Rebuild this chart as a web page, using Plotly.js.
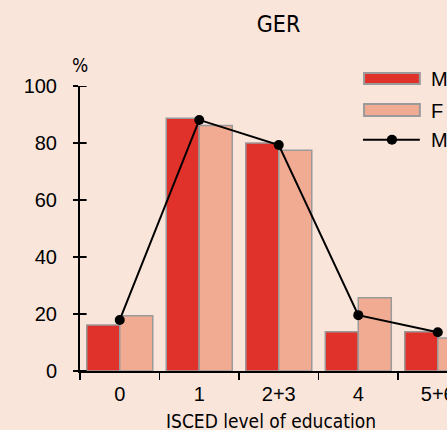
<!DOCTYPE html>
<html>
<head>
<meta charset="utf-8">
<script src="https://cdn.plot.ly/plotly-3.0.1.min.js"></script>
<style>html,body{margin:0;padding:0;background:#FAE5DB;}#chart{width:447px;height:430px;}</style>
</head>
<body>
<div id="chart"></div>
<script>
// ---- data ----
const categories = ['0', '1', '2+3', '4', '5+6'];
const seriesNames = ['M', 'F', 'MF'];
const maleValues = [16.1, 88.7, 80.0, 13.8, 13.8];
const femaleValues = [19.4, 86.1, 77.5, 25.7, 11.6];
const totalValues = [17.9, 88.1, 79.3, 19.6, 13.6];
const yTicks = [0, 20, 40, 60, 80, 100];
const chartTitle = 'GER';
const xTitle = 'ISCED level of education';
const yUnit = '%';

// ---- style ----
const BG = '#FAE5DB';
const RED = '#E0322A';
const SALMON = '#F2AB93';
const EDGE = '#9A9A9A';
const FONT = 'Liberation Sans, Arial, sans-serif';
const NARROW = 'DejaVu Sans Condensed, Liberation Sans, Arial, sans-serif';

const traces = [
  {type: 'bar', name: seriesNames[0], x: categories, y: maleValues,
   marker: {color: RED, line: {color: EDGE, width: 1.5}}, showlegend: false},
  {type: 'bar', name: seriesNames[1], x: categories, y: femaleValues,
   marker: {color: SALMON, line: {color: EDGE, width: 1.5}}, showlegend: false},
  {type: 'scatter', mode: 'lines+markers', name: seriesNames[2], x: categories, y: totalValues,
   line: {color: '#000', width: 2}, marker: {color: '#000', size: 10}, showlegend: false, cliponaxis: false}
];

// custom legend (paper coordinates)
const legendX0 = 0.774, legendX1 = 0.926, legendTextX = 0.951;
const shapes = [
  {type: 'rect', xref: 'paper', yref: 'paper', x0: legendX0, x1: legendX1, y0: 1.007, y1: 1.046,
   fillcolor: RED, line: {color: EDGE, width: 2}},
  {type: 'rect', xref: 'paper', yref: 'paper', x0: legendX0, x1: legendX1, y0: 0.895, y1: 0.937,
   fillcolor: SALMON, line: {color: EDGE, width: 2}},
  {type: 'line', xref: 'paper', yref: 'paper', x0: legendX0 - 0.003, x1: legendX1, y0: 0.811, y1: 0.811,
   line: {color: '#000', width: 2}},
  {type: 'circle', xref: 'paper', yref: 'paper', x0: 0.836, x1: 0.864, y0: 0.794, y1: 0.829,
   fillcolor: '#000', line: {color: '#000', width: 0}}
];
// inward half of the y-axis tick marks
yTicks.forEach(v => shapes.push({
  type: 'line', xref: 'paper', yref: 'y', x0: 0, x1: 0.018, y0: v, y1: v,
  line: {color: '#000', width: 2}, layer: 'above'
}));

const annotations = [
  {xref: 'paper', yref: 'paper', x: legendTextX, y: 1.024, xanchor: 'left', yanchor: 'middle',
   text: seriesNames[0], showarrow: false, font: {family: FONT, size: 20, color: '#000'}},
  {xref: 'paper', yref: 'paper', x: legendTextX, y: 0.914, xanchor: 'left', yanchor: 'middle',
   text: seriesNames[1], showarrow: false, font: {family: FONT, size: 20, color: '#000'}},
  {xref: 'paper', yref: 'paper', x: legendTextX, y: 0.811, xanchor: 'left', yanchor: 'middle',
   text: seriesNames[2], showarrow: false, font: {family: FONT, size: 20, color: '#000'}},
  {xref: 'paper', yref: 'paper', x: 0.0, y: 1.075, xanchor: 'center', yanchor: 'middle',
   text: yUnit, showarrow: false, font: {family: NARROW, size: 19, color: '#000'}},
  // x-axis title
  {xref: 'paper', yref: 'paper', x: 0.52, y: -0.174, xanchor: 'center', yanchor: 'middle',
   text: xTitle, showarrow: false, font: {family: NARROW, size: 19, color: '#000'}}
];

const layout = {
  width: 447, height: 430,
  paper_bgcolor: BG, plot_bgcolor: BG,
  margin: {l: 80, r: 0, t: 86, b: 59},
  showlegend: false,
  barmode: 'group', bargap: 0.17, bargroupgap: 0,
  title: {text: chartTitle, x: 0.541, xref: 'paper', xanchor: 'center',
          y: 1 - 24 / 430, yref: 'container', yanchor: 'middle',
          font: {family: NARROW, size: 23, color: '#000'}},
  xaxis: {
    type: 'category', range: [-0.5, 4.116], fixedrange: true,
    showline: true, linecolor: '#000', linewidth: 2,
    ticks: 'outside', tickson: 'boundaries', ticklen: 7, tickwidth: 1.5, tickcolor: '#000',
    showgrid: false, zeroline: false, ticklabelstandoff: 4,
    tickfont: {family: FONT, size: 20, color: '#000'}
  },
  yaxis: {
    range: [0, 100], tickvals: yTicks, fixedrange: true,
    showline: true, linecolor: '#000', linewidth: 2,
    ticks: 'outside', ticklen: 5, tickwidth: 2, tickcolor: '#000',
    showgrid: false, zeroline: false, ticklabelstandoff: 12,
    tickfont: {family: FONT, size: 20, color: '#000'}
  },
  shapes: shapes,
  annotations: annotations
};

Plotly.newPlot('chart', traces, layout, {displayModeBar: false, staticPlot: true});
</script>
</body>
</html>
